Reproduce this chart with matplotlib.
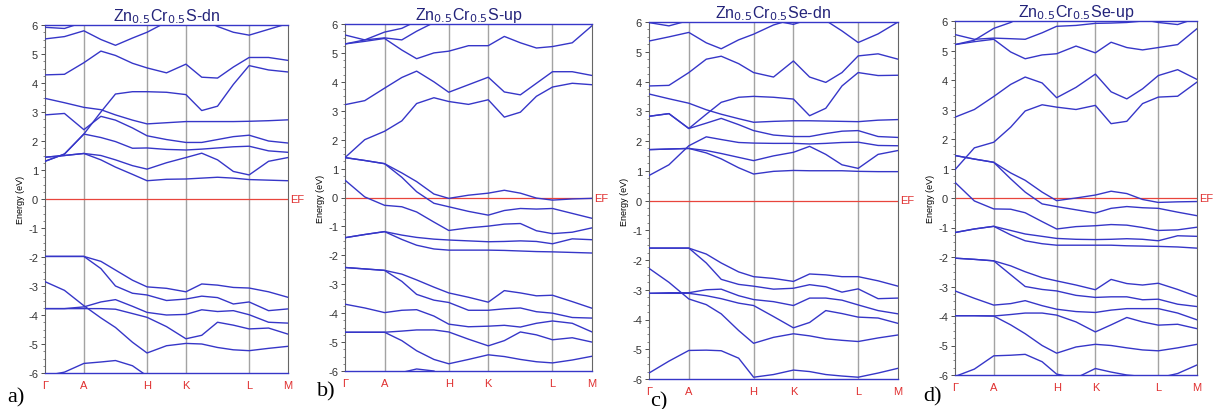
import matplotlib
matplotlib.use("Agg")
import matplotlib.pyplot as plt
import numpy as np

plt.rcParams['font.family'] = ['Liberation Sans', 'DejaVu Sans']

# k-path sample positions (fraction of path) and high-symmetry points
k_path = [0, .08, .16, .23, .29, .36, .42, .50, .58, .645, .71, .775, .84, .92, 1.0]
k_nodes = [0, .16, .42, .58, .84, 1.0]
k_labels = ['Γ', 'A', 'H', 'K', 'L', 'M']

titles = ['Zn$_{0.5}$Cr$_{0.5}$S-dn', 'Zn$_{0.5}$Cr$_{0.5}$S-up',
          'Zn$_{0.5}$Cr$_{0.5}$Se-dn', 'Zn$_{0.5}$Cr$_{0.5}$Se-up']
panel_tags = ['a)', 'b)', 'c)', 'd)']

# a) ZnCrS spin down
bands_a = [
    [1.44, 1.50, 1.57, 1.35, 1.10, 0.85, 0.63, 0.68, 0.69, 0.72, 0.75, 0.72, 0.67, 0.65, 0.63],
    [1.44, 1.50, 1.57, 1.50, 1.35, 1.15, 1.03, 1.25, 1.43, 1.58, 1.35, 0.95, 0.83, 1.30, 1.43],
    [1.30, 1.55, 2.24, 2.12, 1.98, 1.75, 1.76, 1.71, 1.69, 1.72, 1.76, 1.80, 1.82, 1.66, 1.61],
    [2.90, 2.95, 2.39, 2.85, 2.72, 2.45, 2.18, 2.05, 1.95, 1.95, 2.05, 2.15, 2.20, 2.00, 1.93],
    [1.30, 1.55, 2.24, 3.00, 3.62, 3.70, 3.70, 3.68, 3.60, 3.05, 3.20, 3.95, 4.60, 4.45, 4.38],
    [3.47, 3.32, 3.16, 3.08, 2.90, 2.72, 2.59, 2.63, 2.67, 2.67, 2.67, 2.67, 2.68, 2.70, 2.73],
    [4.28, 4.30, 4.70, 5.10, 4.95, 4.68, 4.52, 4.35, 4.65, 4.20, 4.17, 4.55, 4.88, 4.88, 4.78],
    [5.52, 5.60, 5.80, 5.50, 5.30, 5.55, 5.75, 6.10, 6.30, 6.20, 5.95, 5.75, 5.65, 5.85, 6.05],
    [5.92, 5.88, 6.10, 6.30, 6.50, 6.50, 6.50, 6.50, 6.50, 6.50, 6.50, 6.50, 6.50, 6.50, 6.50],
    [-1.98, -1.98, -1.98, -2.15, -2.45, -2.80, -3.03, -3.08, -3.20, -2.93, -2.97, -3.05, -3.07, -3.20, -3.39],
    [-1.98, -1.98, -1.98, -2.40, -3.00, -3.25, -3.31, -3.50, -3.45, -3.35, -3.40, -3.62, -3.55, -3.85, -3.79],
    [-2.85, -3.15, -3.68, -4.10, -4.43, -4.94, -5.31, -5.06, -4.98, -5.00, -5.12, -5.20, -5.23, -5.15, -5.08],
    [-3.78, -3.78, -3.72, -3.55, -3.47, -3.70, -3.91, -4.00, -3.98, -3.82, -3.88, -3.85, -3.99, -4.25, -4.28],
    [-3.78, -3.78, -3.78, -3.78, -3.80, -3.95, -4.08, -4.40, -4.82, -4.70, -4.25, -4.35, -4.48, -4.45, -4.66],
    [-6.10, -5.97, -5.67, -5.62, -5.57, -5.75, -6.10, -6.40, -6.50, -6.50, -6.50, -6.50, -6.50, -6.50, -6.50],
]

# b) ZnCrS spin up
bands_b = [
    [1.38, 1.28, 1.17, 0.85, 0.55, 0.12, -0.03, 0.08, 0.15, 0.25, 0.15, -0.02, -0.09, -0.05, -0.03],
    [1.38, 1.28, 1.17, 0.70, 0.20, -0.20, -0.32, -0.48, -0.61, -0.45, -0.38, -0.40, -0.38, -0.55, -0.72],
    [0.60, 0.02, -0.27, -0.32, -0.50, -0.85, -1.14, -1.05, -0.99, -0.92, -0.90, -1.15, -1.25, -1.20, -1.05],
    [-1.39, -1.28, -1.18, -1.30, -1.38, -1.44, -1.47, -1.50, -1.53, -1.52, -1.50, -1.52, -1.60, -1.43, -1.46],
    [-1.39, -1.28, -1.18, -1.45, -1.65, -1.78, -1.82, -1.82, -1.82, -1.83, -1.85, -1.87, -1.88, -1.90, -1.92],
    [-2.42, -2.47, -2.52, -2.65, -2.85, -3.10, -3.30, -3.45, -3.62, -3.22, -3.30, -3.40, -3.38, -3.60, -3.83],
    [-2.42, -2.47, -2.52, -2.90, -3.35, -3.55, -3.63, -3.90, -3.90, -3.85, -3.82, -3.95, -4.00, -4.15, -4.17],
    [-3.69, -3.82, -3.98, -3.90, -3.88, -4.10, -4.38, -4.47, -4.45, -4.42, -4.48, -4.35, -4.27, -4.35, -4.65],
    [-4.66, -4.66, -4.66, -4.62, -4.58, -4.58, -4.65, -4.90, -5.13, -4.95, -4.65, -4.75, -4.92, -4.85, -5.00],
    [-4.66, -4.66, -4.66, -4.95, -5.30, -5.60, -5.75, -5.60, -5.44, -5.50, -5.60, -5.68, -5.72, -5.62, -5.49],
    [-6.40, -6.30, -6.20, -6.05, -5.93, -6.00, -6.30, -6.50, -6.50, -6.50, -6.50, -6.50, -6.50, -6.50, -6.50],
    [1.38, 2.00, 2.29, 2.65, 3.25, 3.45, 3.32, 3.22, 3.38, 2.78, 2.95, 3.50, 3.82, 3.95, 3.90],
    [3.21, 3.35, 3.78, 4.15, 4.37, 4.00, 3.64, 3.90, 4.16, 3.65, 3.55, 3.95, 4.35, 4.35, 4.22],
    [5.31, 5.40, 5.50, 5.10, 4.80, 5.00, 5.06, 5.25, 5.25, 5.57, 5.35, 5.17, 5.22, 5.35, 5.94],
    [5.62, 5.45, 5.52, 5.45, 5.75, 6.05, 6.30, 6.50, 6.50, 6.50, 6.50, 6.50, 6.50, 6.50, 6.50],
    [5.31, 5.45, 5.72, 5.85, 6.10, 6.40, 6.50, 6.50, 6.50, 6.50, 6.50, 6.50, 6.50, 6.50, 6.50],
]

# c) ZnCrSe spin down
bands_c = [
    [1.71, 1.73, 1.75, 1.60, 1.40, 1.10, 0.89, 0.98, 1.01, 1.00, 1.00, 1.00, 0.98, 0.97, 0.97],
    [1.71, 1.73, 1.75, 1.68, 1.58, 1.45, 1.34, 1.50, 1.62, 1.82, 1.55, 1.20, 1.08, 1.55, 1.68],
    [0.84, 1.20, 1.84, 2.14, 2.05, 1.95, 1.93, 1.92, 1.92, 1.90, 1.92, 1.95, 1.96, 1.85, 1.84],
    [2.83, 2.92, 2.42, 2.60, 2.76, 2.55, 2.35, 2.20, 2.15, 2.15, 2.25, 2.33, 2.35, 2.15, 2.12],
    [2.83, 2.92, 2.42, 2.90, 3.30, 3.47, 3.50, 3.47, 3.41, 2.85, 3.10, 3.85, 4.30, 4.20, 4.21],
    [3.58, 3.42, 3.27, 3.05, 2.90, 2.75, 2.63, 2.66, 2.68, 2.68, 2.67, 2.66, 2.65, 2.70, 2.72],
    [3.85, 3.87, 4.30, 4.75, 4.85, 4.60, 4.30, 4.15, 4.69, 4.15, 3.97, 4.30, 4.86, 4.93, 4.75],
    [5.36, 5.50, 5.65, 5.30, 5.10, 5.40, 5.59, 5.90, 6.10, 6.30, 6.05, 5.70, 5.31, 5.60, 6.00],
    [5.98, 5.87, 6.05, 6.30, 6.50, 6.50, 6.30, 6.05, 5.92, 6.10, 6.40, 6.50, 6.50, 6.50, 6.50],
    [-1.60, -1.60, -1.60, -1.80, -2.10, -2.40, -2.56, -2.62, -2.72, -2.47, -2.50, -2.56, -2.56, -2.70, -2.88],
    [-1.60, -1.60, -1.60, -2.10, -2.65, -2.82, -2.88, -2.98, -2.95, -2.83, -2.90, -3.08, -2.97, -3.30, -3.28],
    [-2.28, -2.75, -3.31, -3.50, -3.81, -4.37, -4.80, -4.60, -4.48, -4.55, -4.65, -4.70, -4.74, -4.62, -4.52],
    [-3.12, -3.10, -3.10, -3.00, -2.98, -3.20, -3.33, -3.40, -3.53, -3.28, -3.28, -3.35, -3.51, -3.70, -3.81],
    [-3.12, -3.12, -3.12, -3.20, -3.30, -3.45, -3.53, -3.90, -4.28, -4.10, -3.70, -3.80, -3.92, -3.95, -4.13],
    [-5.80, -5.40, -5.04, -5.03, -5.05, -5.30, -5.94, -5.85, -5.70, -5.75, -5.85, -5.90, -5.94, -5.80, -5.64],
]

# d) ZnCrSe spin up
bands_d = [
    [1.44, 1.32, 1.21, 0.85, 0.60, 0.20, -0.09, 0.00, 0.10, 0.23, 0.15, -0.05, -0.15, -0.13, -0.12],
    [1.44, 1.32, 1.21, 0.65, 0.20, -0.20, -0.29, -0.40, -0.51, -0.35, -0.29, -0.33, -0.35, -0.48, -0.60],
    [0.53, -0.10, -0.37, -0.38, -0.50, -0.80, -1.05, -0.97, -0.94, -0.90, -0.92, -1.00, -1.10, -1.08, -0.99],
    [-1.17, -1.05, -0.96, -1.10, -1.22, -1.30, -1.37, -1.40, -1.41, -1.40, -1.38, -1.40, -1.45, -1.28, -1.30],
    [-1.17, -1.05, -0.96, -1.25, -1.45, -1.55, -1.60, -1.60, -1.60, -1.60, -1.62, -1.63, -1.64, -1.66, -1.70],
    [-2.04, -2.08, -2.13, -2.30, -2.50, -2.70, -2.81, -2.95, -3.11, -2.76, -2.90, -2.95, -2.89, -3.10, -3.34],
    [-2.04, -2.08, -2.13, -2.60, -3.00, -3.10, -3.15, -3.30, -3.37, -3.35, -3.35, -3.45, -3.43, -3.60, -3.68],
    [-3.15, -3.40, -3.63, -3.58, -3.48, -3.65, -3.77, -3.85, -3.88, -3.80, -3.75, -3.75, -3.75, -3.90, -4.13],
    [-3.99, -3.99, -4.00, -3.95, -3.90, -3.90, -3.97, -4.20, -4.54, -4.30, -4.05, -4.20, -4.31, -4.28, -4.43],
    [-3.99, -3.99, -4.00, -4.30, -4.60, -5.00, -5.26, -5.05, -4.96, -5.00, -5.08, -5.15, -5.18, -5.08, -4.96],
    [-6.05, -5.80, -5.35, -5.33, -5.30, -5.55, -5.97, -6.10, -5.78, -5.90, -6.00, -6.05, -6.10, -5.95, -5.66],
    [0.96, 1.70, 1.89, 2.40, 2.95, 3.16, 3.08, 3.00, 3.14, 2.52, 2.60, 3.20, 3.42, 3.45, 3.93],
    [2.74, 3.00, 3.44, 3.85, 4.10, 3.90, 3.40, 3.75, 4.20, 3.60, 3.36, 3.70, 4.15, 4.35, 4.02],
    [5.20, 5.30, 5.38, 4.95, 4.72, 4.85, 4.89, 5.15, 4.92, 5.28, 5.10, 5.02, 5.10, 5.20, 5.74],
    [5.54, 5.38, 5.42, 5.40, 5.38, 5.60, 5.82, 5.85, 5.92, 5.93, 5.95, 6.00, 6.05, 6.10, 6.20],
    [5.20, 5.35, 5.75, 5.95, 6.20, 6.40, 6.50, 6.50, 6.50, 6.50, 6.50, 6.50, 6.50, 6.50, 6.50],
    [6.50, 6.50, 6.50, 6.50, 6.50, 6.50, 6.50, 6.50, 6.50, 6.30, 6.20, 6.05, 5.95, 5.88, 6.10],
]

all_bands = [bands_a, bands_b, bands_c, bands_d]

W, H = 1217, 410
fig = plt.figure(figsize=(W / 100, H / 100), dpi=100)

# axes boxes in pixels: left, top, right, bottom
boxes = [(45, 26, 288, 374), (345, 25, 592, 372), (649, 23, 898, 380), (955, 22, 1197, 376)]
tag_pos = [(7, 398), (317, 392), (650, 402), (923, 397)]

band_col = '#3636c8'
for i in range(4):
    l, t, r, b = boxes[i]
    ax = fig.add_axes([l / W, 1 - b / H, (r - l) / W, (b - t) / H])
    for kx in k_nodes[1:-1]:
        ax.axvline(kx, color='#a3a3a3', lw=1.0, zorder=1)
    ax.axhline(0, color='#e8453c', lw=0.9, zorder=2)
    for band in all_bands[i]:
        ax.plot(k_path, band, color=band_col, lw=1.0, zorder=3)
    ax.set_xlim(0, 1)
    ax.set_ylim(-6, 6)
    ax.set_yticks(np.arange(-6, 7, 1))
    ax.set_yticks(np.arange(-6, 6.01, 0.25), minor=True)
    ax.set_yticklabels([str(v) for v in range(-6, 7)])
    ax.tick_params(axis='y', which='major', labelsize=8, length=3, width=0.6, colors='#333333', pad=2)
    ax.tick_params(axis='y', which='minor', length=1.5, width=0.5, colors='#555555')
    ax.set_xticks(k_nodes)
    ax.set_xticklabels(k_labels)
    ax.tick_params(axis='x', length=0, labelsize=8, labelcolor='#e03030', pad=5)
    for s in ['left', 'right']:
        ax.spines[s].set_color('#666666')
        ax.spines[s].set_linewidth(0.8)
    for s in ['top', 'bottom']:
        ax.spines[s].set_color(band_col)
        ax.spines[s].set_linewidth(1.0)
    ax.set_ylabel('Energy (eV)', fontsize=6.5, labelpad=2)
    ax.set_title(titles[i], fontsize=11.5, color='#23237a', pad=3)
    ax.text(1.01, 0, 'EF', color='#e03030', fontsize=8, va='center', ha='left',
            transform=ax.get_yaxis_transform())
    fig.text(tag_pos[i][0] / W, 1 - tag_pos[i][1] / H, panel_tags[i],
             family='Liberation Serif', fontsize=16, va='center', ha='left')

fig.savefig('out.png', dpi=100)
